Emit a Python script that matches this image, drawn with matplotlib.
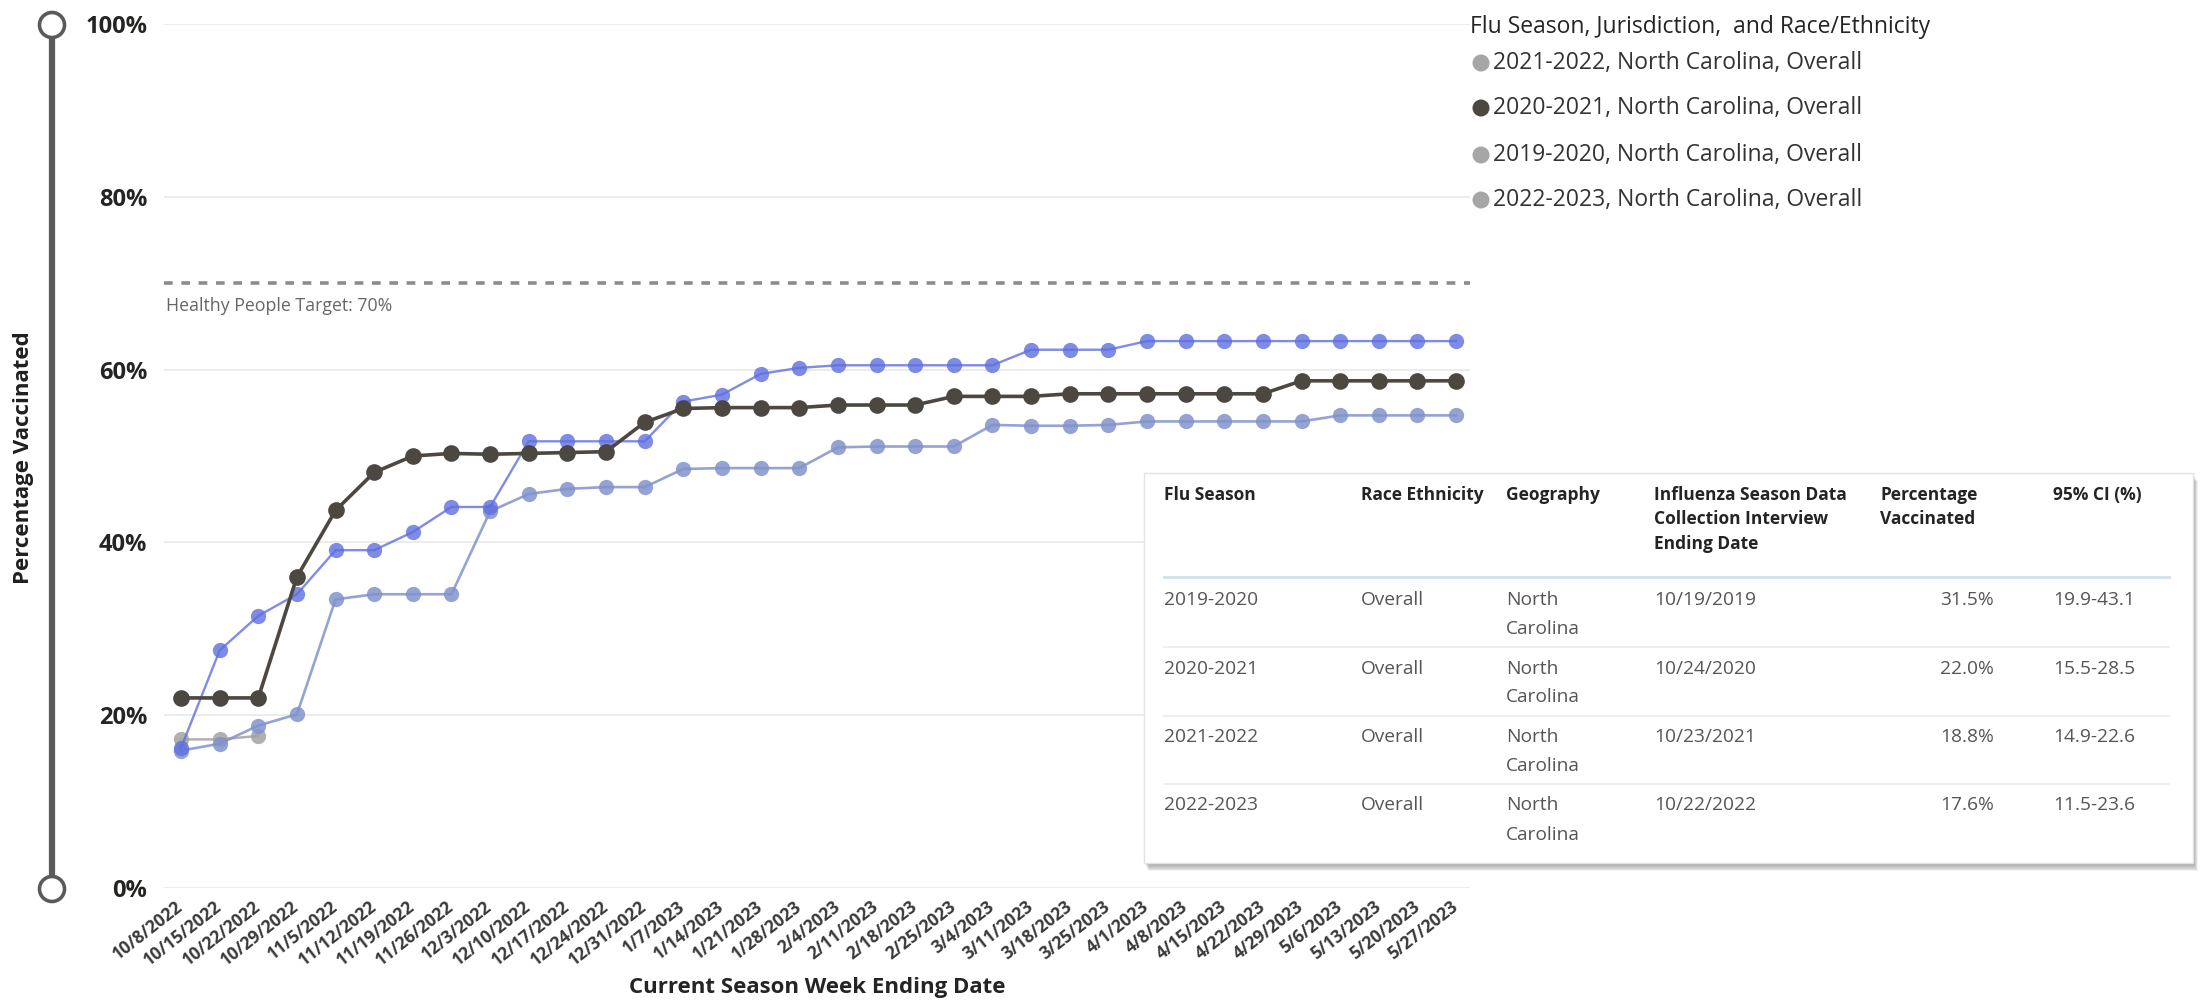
import matplotlib
matplotlib.use('Agg')
import matplotlib.pyplot as plt
from matplotlib.patches import Circle, Rectangle

plt.rcParams['font.family'] = ['Open Sans', 'DejaVu Sans']

# ---------------- data ----------------
weeks = ['10/8/2022', '10/15/2022', '10/22/2022', '10/29/2022', '11/5/2022', '11/12/2022',
         '11/19/2022', '11/26/2022', '12/3/2022', '12/10/2022', '12/17/2022', '12/24/2022',
         '12/31/2022', '1/7/2023', '1/14/2023', '1/21/2023', '1/28/2023', '2/4/2023',
         '2/11/2023', '2/18/2023', '2/25/2023', '3/4/2023', '3/11/2023', '3/18/2023',
         '3/25/2023', '4/1/2023', '4/8/2023', '4/15/2023', '4/22/2023', '4/29/2023',
         '5/6/2023', '5/13/2023', '5/20/2023', '5/27/2023']

season_2019_20 = [16.2, 27.5, 31.5, 34.0, 39.1, 39.1, 41.2, 44.1, 44.1, 51.7, 51.7, 51.7,
                  51.7, 56.3, 57.1, 59.5, 60.2, 60.5, 60.5, 60.5, 60.5, 60.5, 62.3, 62.3,
                  62.3, 63.3, 63.3, 63.3, 63.3, 63.3, 63.3, 63.3, 63.3, 63.3]
season_2020_21 = [22.0, 22.0, 22.0, 36.0, 43.7, 48.1, 50.0, 50.3, 50.2, 50.3, 50.4, 50.5,
                  53.9, 55.5, 55.6, 55.6, 55.6, 55.9, 55.9, 55.9, 56.9, 56.9, 56.9, 57.2,
                  57.2, 57.2, 57.2, 57.2, 57.2, 58.7, 58.7, 58.7, 58.7, 58.7]
season_2021_22 = [15.9, 16.7, 18.8, 20.1, 33.4, 34.0, 34.0, 34.0, 43.6, 45.6, 46.2, 46.4,
                  46.4, 48.5, 48.6, 48.6, 48.6, 51.0, 51.1, 51.1, 51.1, 53.6, 53.5, 53.5,
                  53.6, 54.0, 54.0, 54.0, 54.0, 54.0, 54.7, 54.7, 54.7, 54.7]
season_2022_23 = [17.2, 17.2, 17.6]

target_value = 70
y_ticks = [0, 20, 40, 60, 80, 100]
y_tick_labels = ['0%', '20%', '40%', '60%', '80%', '100%']

legend_title = 'Flu Season, Jurisdiction,  and Race/Ethnicity'
legend_labels = ['2021-2022, North Carolina, Overall', '2020-2021, North Carolina, Overall',
                 '2019-2020, North Carolina, Overall', '2022-2023, North Carolina, Overall']
legend_colors = ['#a6a6a6', '#4c4741', '#a6a6a6', '#a6a6a6']

table_headers = ['Flu Season', 'Race Ethnicity', 'Geography',
                 'Influenza Season Data\nCollection Interview\nEnding Date',
                 'Percentage\nVaccinated', '95% CI (%)']
table_season = ['2019-2020', '2020-2021', '2021-2022', '2022-2023']
table_race = ['Overall', 'Overall', 'Overall', 'Overall']
table_geo = ['North Carolina', 'North Carolina', 'North Carolina', 'North Carolina']
table_date = ['10/19/2019', '10/24/2020', '10/23/2021', '10/22/2022']
table_pct = [31.5, 22.0, 18.8, 17.6]
table_ci = ['19.9-43.1', '15.5-28.5', '14.9-22.6', '11.5-23.6']

# ---------------- figure ----------------
W, H = 2202, 1002
fig = plt.figure(figsize=(W / 100, H / 100), dpi=100)
fig.patch.set_facecolor('white')

L, R, T, B = 164, 1470, 24, 888
ax = fig.add_axes([L / W, 1 - B / H, (R - L) / W, (B - T) / H])
x = list(range(len(weeks)))
ax.set_xlim(-0.44, 33.36)
ax.set_ylim(0, 100)
for s in ax.spines.values():
    s.set_visible(False)
for v in y_ticks:
    ax.axhline(v, color='#ebebeb', lw=1.3, zorder=0)
ax.axhline(target_value, color='#8c8c8c', lw=2.6, dashes=(2.4, 2.4),
           dash_capstyle='butt', zorder=1)

ax.plot(x[:len(season_2022_23)], season_2022_23, color='#a3a3a3', alpha=0.85, lw=1.8,
        marker='o', ms=11, mec='none', zorder=2)
ax.plot(x, season_2021_22, color='#8193cb', alpha=0.85, lw=1.9,
        marker='o', ms=11, mec='none', zorder=3)
ax.plot(x, season_2019_20, color='#5f6fe0', alpha=0.8, lw=1.7,
        marker='o', ms=11, mec='none', zorder=4)
ax.plot(x, season_2020_21, color='#4c4741', lw=2.6,
        marker='o', ms=12, mec='none', zorder=5)

ax.set_yticks(y_ticks)
ax.set_yticklabels(y_tick_labels, fontsize=17, fontweight='bold', color='#252423')
ax.set_xticks(x)
ax.set_xticklabels(weeks, rotation=38, ha='right', va='center', rotation_mode='anchor',
                   fontsize=12.5, fontweight='bold', color='#3a3a3a')
ax.tick_params(axis='y', length=0, pad=12)
ax.tick_params(axis='x', length=0, pad=12)

# ---------------- overlay (pixel coordinates) ----------------
ov = fig.add_axes([0, 0, 1, 1], zorder=5)
ov.set_xlim(0, W)
ov.set_ylim(H, 0)
ov.axis('off')
ov.patch.set_alpha(0)

# left slider
ov.plot([52, 52], [36, 877], color='#5a5a5a', lw=4.5, solid_capstyle='butt')
for cy in (25, 889):
    ov.add_patch(Circle((52, cy), 12.5, facecolor='white', edgecolor='#5a5a5a', lw=2.6))

ov.text(24, 458, 'Percentage Vaccinated', rotation=90, ha='center', va='center',
        fontsize=16, fontweight='bold', color='#1f1f1f')
ov.text(817, 987, 'Current Season Week Ending Date', ha='center', va='center',
        fontsize=16, fontweight='bold', color='#252423')
ov.text(166, 306, 'Healthy People Target: 70%', ha='left', va='center',
        fontsize=12.8, color='#666666')

# legend
ov.text(1470, 27, legend_title, ha='left', va='center', fontsize=16.5, color='#252423')
for i, (lab, col) in enumerate(zip(legend_labels, legend_colors)):
    yy = [63, 108, 155, 200][i]
    ov.add_patch(Circle((1481, yy), 8.5, facecolor=col, edgecolor='none'))
    ov.text(1493, yy, lab, ha='left', va='center', fontsize=16.5, color='#333333')

# table
tx0, ty0, tx1, ty1 = 1144, 473, 2193, 863
for k in range(8):
    ov.add_patch(Rectangle((tx0 + 1 + k * 0.5, ty0 + 2 + k * 0.9), tx1 - tx0, ty1 - ty0,
                           facecolor='black', edgecolor='none', alpha=0.045, zorder=1))
ov.add_patch(Rectangle((tx0, ty0), tx1 - tx0, ty1 - ty0, facecolor='white',
                       edgecolor='#e3e3e3', lw=1, zorder=2))
col_x = [1164, 1361, 1506, 1654, 1880, 2053]
for cx, htxt in zip(col_x, table_headers):
    ov.text(cx, 486, htxt, ha='left', va='top', fontsize=12.5, fontweight='bold',
            color='#252423', linespacing=1.45, zorder=3)
ov.plot([1164, 2169], [577, 577], color='#cfe2ea', lw=2, zorder=3)
row_y = [600, 668.5, 737, 805.5]
for j in range(4):
    yy = row_y[j]
    kw = dict(va='center', fontsize=13.8, color='#555555', zorder=3)
    ov.text(col_x[0], yy, table_season[j], ha='left', **kw)
    ov.text(col_x[1], yy, table_race[j], ha='left', **kw)
    g1, g2 = table_geo[j].split(' ', 1)
    ov.text(col_x[2], yy, g1, ha='left', **kw)
    ov.text(col_x[2], yy + 29, g2, ha='left', **kw)
    ov.text(col_x[3], yy, table_date[j], ha='left', **kw)
    ov.text(1994, yy, f'{table_pct[j]:.1f}%', ha='right', **kw)
    ov.text(col_x[5], yy, table_ci[j], ha='left', **kw)
    if j < 3:
        ov.plot([1164, 2169], [yy + 47, yy + 47], color='#ededed', lw=1.3, zorder=3)

fig.savefig('out.png', dpi=100, facecolor='white')
